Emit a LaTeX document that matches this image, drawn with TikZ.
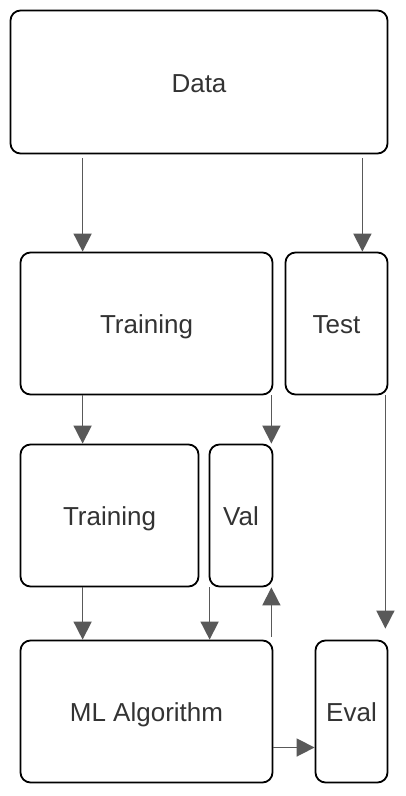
\documentclass[tikz,border=0pt]{standalone}
\usepackage{fontspec}
\setmainfont{Liberation Sans}
\usepackage{xcolor}
\usetikzlibrary{arrows.meta}
\definecolor{txtgray}{HTML}{333333}
\definecolor{arrgray}{HTML}{595959}

\begin{document}
\begin{tikzpicture}[x=1pt,y=-1pt,
  box/.style={draw=black,line width=1.8pt,rounded corners=10pt,inner sep=0pt,
    text=txtgray,font=\fontsize{26}{30}\selectfont,text height=20pt,text depth=0pt},
  arr/.style={draw=arrgray,line width=1.6pt,-{Triangle[width=18pt,length=18pt]}}]
\useasboundingbox (0,0) rectangle (405,796);

%Data
\node[box,minimum width=377pt,minimum height=143pt] (data) at (199,82) {Data};

%split
\node[box,minimum width=252pt,minimum height=142pt] (train) at (146.5,323.5) {Training};
\node[box,minimum width=102pt,minimum height=142pt] (test) at (336.5,323.5) {Test};

%second split
\node[box,minimum width=178pt,minimum height=142pt] (subtrain) at (109.5,515.5) {Training};
\node[box,minimum width=63pt,minimum height=142pt] (val) at (241,515.5) {Val};

%model
\node[box,minimum width=252pt,minimum height=142pt] (algo) at (146.5,711.5) {ML Algorithm};
\node[box,minimum width=72pt,minimum height=142pt] (eval) at (351.5,711.5) {Eval};

%data arrows
\draw[arr] ([xshift=73pt,yshift=-4pt]data.south west) -- ([xshift=73pt]data.south west |- train.north);
\draw[arr] ([xshift=-26pt,yshift=-4pt]data.south east) -- ([xshift=-26pt]data.south east |- test.north);

%training arrows
\draw[arr] ([xshift=63pt]train.south west) -- ([xshift=63pt]train.south west |- subtrain.north);
\draw[arr] ([xshift=-2pt]train.south east) -- ([xshift=-2pt]train.south east |- val.north);

%down to the model
\draw[arr] ([xshift=63pt]subtrain.south west) -- ([xshift=63pt]subtrain.south west |- algo.north);
\draw[arr] ([xshift=1pt]val.south west) -- ([xshift=1pt]val.south west |- algo.north);

%back to val
\draw[arr] ([xshift=-2pt,yshift=3pt]algo.north east) -- ([xshift=-2pt]algo.north east |- val.south);

%test to eval
\draw[arr] ([xshift=-3pt]test.south east) -- ([xshift=-3pt,yshift=11pt]test.south east |- eval.north);

%algo to eval
\draw[arr] ([yshift=-36pt]algo.east) -- ([yshift=-36pt]algo.east -| eval.west);
\end{tikzpicture}
\end{document}
